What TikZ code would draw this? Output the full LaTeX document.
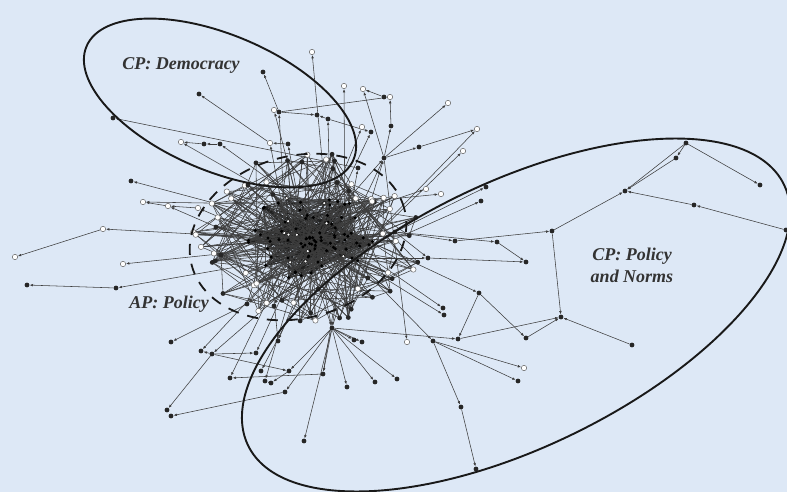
\documentclass[tikz,border=0pt]{standalone}
\usepackage{fontspec}
\setmainfont{Liberation Serif}
\usetikzlibrary{arrows.meta}
\definecolor{bgc}{RGB}{221,232,246}
\pgfdeclarelayer{back}
\pgfdeclarelayer{lines}
\pgfsetlayers{back,lines,main}
\tikzset{
 pf/.style={circle,fill=black!85,inner sep=0pt,minimum size=4.8pt},
 ph/.style={circle,draw=black!60,fill=white,line width=0.5pt,inner sep=0pt,minimum size=5.4pt},
 cdot/.style={circle,fill=black,inner sep=0pt,minimum size=3.4pt},
 chdot/.style={circle,fill=white,draw=black,line width=0.4pt,inner sep=0pt,minimum size=3.6pt},
 lnk/.style={draw=black!76,line width=0.55pt},
 alnk/.style={lnk,-{Latex[length=3.4pt,width=2.6pt]}},
 clnk/.style={draw=black!88,line width=0.5pt},
 ring/.style={draw=black!90,line width=1.9pt},
 dring/.style={draw=black!90,line width=1.8pt,dash pattern=on 11pt off 9pt},
 lbl/.style={font=\fontsize{18}{22}\selectfont\bfseries\itshape,text=black!80,align=center,inner sep=0pt}
}
\begin{document}
\begin{tikzpicture}[x=1pt,y=-1pt]
\begin{pgfonlayer}{back}
\fill[bgc] (0,0) rectangle (787,492);
\end{pgfonlayer}
\useasboundingbox (0,0) rectangle (787,492);

% hubs of the core
\foreach \n/\x/\y in {h1/285/222, h2/305/245, h3/328/222, h4/345/240, h5/288/258,
  h6/318/262, h7/268/238, h8/330/205, h9/300/210, h10/352/258}
  \node[cdot] (\n) at (\x,\y) {};

% dense core
\pgfmathsetseed{20231}
\foreach \i in {1,...,80}{
  \pgfmathsetmacro\ang{360*rnd}
  \pgfmathsetmacro\rad{rnd^0.8}
  \pgfmathsetmacro\cx{310+64*\rad*cos(\ang)}
  \pgfmathsetmacro\cy{237+44*\rad*sin(\ang)}
  \pgfmathtruncatemacro\ish{rnd<0.15}
  \ifnum\ish=1 \node[chdot] (c\i) at (\cx,\cy) {};
  \else \node[cdot] (c\i) at (\cx,\cy) {}; \fi
}
% middle ring
\foreach \i in {1,...,60}{
  \pgfmathsetmacro\ang{360*rnd}
  \pgfmathsetmacro\rad{1.1+0.8*rnd}
  \pgfmathsetmacro\cx{310+62*\rad*cos(\ang)}
  \pgfmathsetmacro\cy{237+46*\rad*sin(\ang)}
  \pgfmathtruncatemacro\ish{rnd<0.45}
  \ifnum\ish=1 \node[ph] (m\i) at (\cx,\cy) {};
  \else \node[pf] (m\i) at (\cx,\cy) {}; \fi
}

% peripheral nodes
\foreach \n/\x/\y/\t in {
 p1/263/72/pf, p2/279/112/pf, p3/274/110/ph, p4/312/52/ph, p5/344/86/ph, p6/363/89/ph,
 p7/384/97/pf, p8/390/97/ph, p9/317/115/pf, p10/328/119/pf, p11/391/126/pf, p12/362/127/ph,
 p13/371/132/pf, p14/448/103/ph, p15/477/129/ph, p16/419/147/pf, p17/384/158/pf, p18/463/151/ph,
 p19/199/94/pf, p20/270/143/ph, p21/288/144/pf, p22/113/118/pf, p23/358/168/pf, p24/181/142/ph,
 p25/204/144/pf, p26/220/144/pf, p27/131/181/pf, p28/143/202/ph, p29/168/206/ph, p30/198/208/ph,
 p31/103/229/ph, p32/15/257/ph, p33/123/264/ph, p34/27/285/pf, p35/116/288/pf, p36/248/185/pf,
 q1/247/304/pf, q2/274/306/pf, q3/171/342/pf, q4/201/351/pf, q5/212/354/pf, q6/256/353/pf,
 q7/278/341/pf, q8/230/378/pf, q9/261/371/pf, q10/265/381/pf, q11/271/383/pf, q12/289/371/pf,
 q13/323/374/pf, q14/285/392/pf, q15/167/410/pf, q16/171/416/pf, q17/304/441/pf, q18/332/328/pf,
 q19/362/342/pf, q20/354/340/pf, q21/347/387/pf, q22/375/382/pf, q23/397/379/pf, q24/407/342/ph,
 q25/433/341/pf, q26/458/339/pf, q27/479/293/pf, q28/443/308/pf, q29/444/315/pf, q30/526/338/pf,
 q31/524/368/ph, q32/518/381/pf, q33/461/407/pf, q34/476/469/pf,
 r1/455/241/pf, r2/497/242/pf, r3/526/262/pf, r4/428/258/pf, r6/486/187/pf, r7/481/201/pf,
 r8/426/189/ph, r9/441/194/ph, r10/395/232/pf,
 R1/686/143/pf, R2/760/185/pf, R3/676/158/pf, R4/625/191/pf, R5/694/205/pf, R6/786/230/pf,
 R7/552/231/pf, R8/561/317/pf, R9/632/345/pf}
  \node[\t] (\n) at (\x,\y) {};

\begin{pgfonlayer}{lines}
\foreach \k in {1,...,520}{
  \pgfmathrandominteger{\a}{1}{80}
  \pgfmathrandominteger{\b}{1}{80}
  \draw[clnk] (c\a.center) -- (c\b.center);
}
\foreach \h in {h1,h2,h3,h4,h5,h6,h7,h8,h9,h10}{
  \foreach \k in {1,...,8}{
    \pgfmathrandominteger{\a}{1}{80}
    \draw[clnk] (\h.center) -- (c\a.center);
  }
}
\foreach \i in {1,...,60}{
  \pgfmathrandominteger{\a}{1}{80}
  \pgfmathrandominteger{\b}{1}{80}
  \pgfmathrandominteger{\e}{1}{80}
  \pgfmathrandominteger{\d}{1}{60}
  \pgfmathrandominteger{\f}{1}{60}
  \draw[lnk] (m\i.center) -- (c\a.center);
  \draw[lnk] (m\i.center) -- (c\b.center);
  \draw[lnk] (m\i.center) -- (c\e.center);
  \draw[lnk] (m\i.center) -- (m\d.center);
  \draw[lnk] (m\i.center) -- (m\f.center);
}
\foreach \s/\t in {
 h1/p2, p2/p1, p2/p8, p2/p9, p10/p9, h9/p3, h3/p4, h4/p5, p7/p6, p17/p6, p8/p7, p11/p8,
 p17/p11, p10/p13, h8/p12, h8/p10, h3/p13, p17/p14, p16/p15, p17/p16, h3/p17, h4/p17, q18/p17,
 h10/p18, p20/p19, h1/p20, p21/p20, h9/p21, p23/p22, h4/p23, p25/p24, p26/p25, h3/p26, h1/p27,
 p29/p28, p30/p29, h7/p30, h5/p29, p31/p32, h7/p31, h2/p33, p35/p34, h5/p35, h2/p36,
 h5/q1, h7/q1, q1/q3, h6/q1, h2/q2, q5/q4, h5/q4, h6/q5, q5/q6, h2/q6, h3/q7, h5/q8, q13/q8,
 h6/q9, h2/q10, q11/q10, q12/q11, q18/q12, q18/q13, h4/q13, q18/q14, q14/q16, q5/q15, q18/q17,
 h2/q18, h6/q18, h4/q18, q18/q19, q18/q20, q18/q21, q18/q22, q18/q23, p17/q24, h10/q25,
 q25/q31, q25/q32, q25/q33, q33/q34, q18/q26, q27/q26, q26/R8, q27/q30, h3/q27, h4/q28,
 h10/q29, q30/R8, q5/q12, h8/p28, h9/p24, h10/p15, h7/q7, h1/p36, h5/q2,
 h4/r10, r10/r1, r1/R7, r10/r2, r2/r3, r4/r3, r10/r4, h10/r4, r10/r6, h10/r7, h3/r8, h8/r9,
 R7/R8, R9/R8, R7/R4, R1/R4, R3/R4, R1/R3, R1/R2, R6/R5, R5/R4}
  \draw[alnk] (\s) -- (\t);
\end{pgfonlayer}

% labels
\node[lbl] (tDem) at (181,65) {CP: Democracy};
\node[lbl] (tPol) at (632,265) {CP: Policy\\and Norms};
\node[lbl] (tAP) at (169,304) {AP: Policy};

% group outlines
\draw[ring, rotate around={-23:(220,103)}] (220,103) ellipse [x radius=145pt, y radius=68pt];
\draw[ring, rotate around={26:(516,315)}] (516,315) ellipse [x radius=298pt, y radius=132pt];
\draw[dring, rotate around={15:(298,237)}] (298,237) ellipse [x radius=110pt, y radius=81pt];
\end{tikzpicture}
\end{document}
